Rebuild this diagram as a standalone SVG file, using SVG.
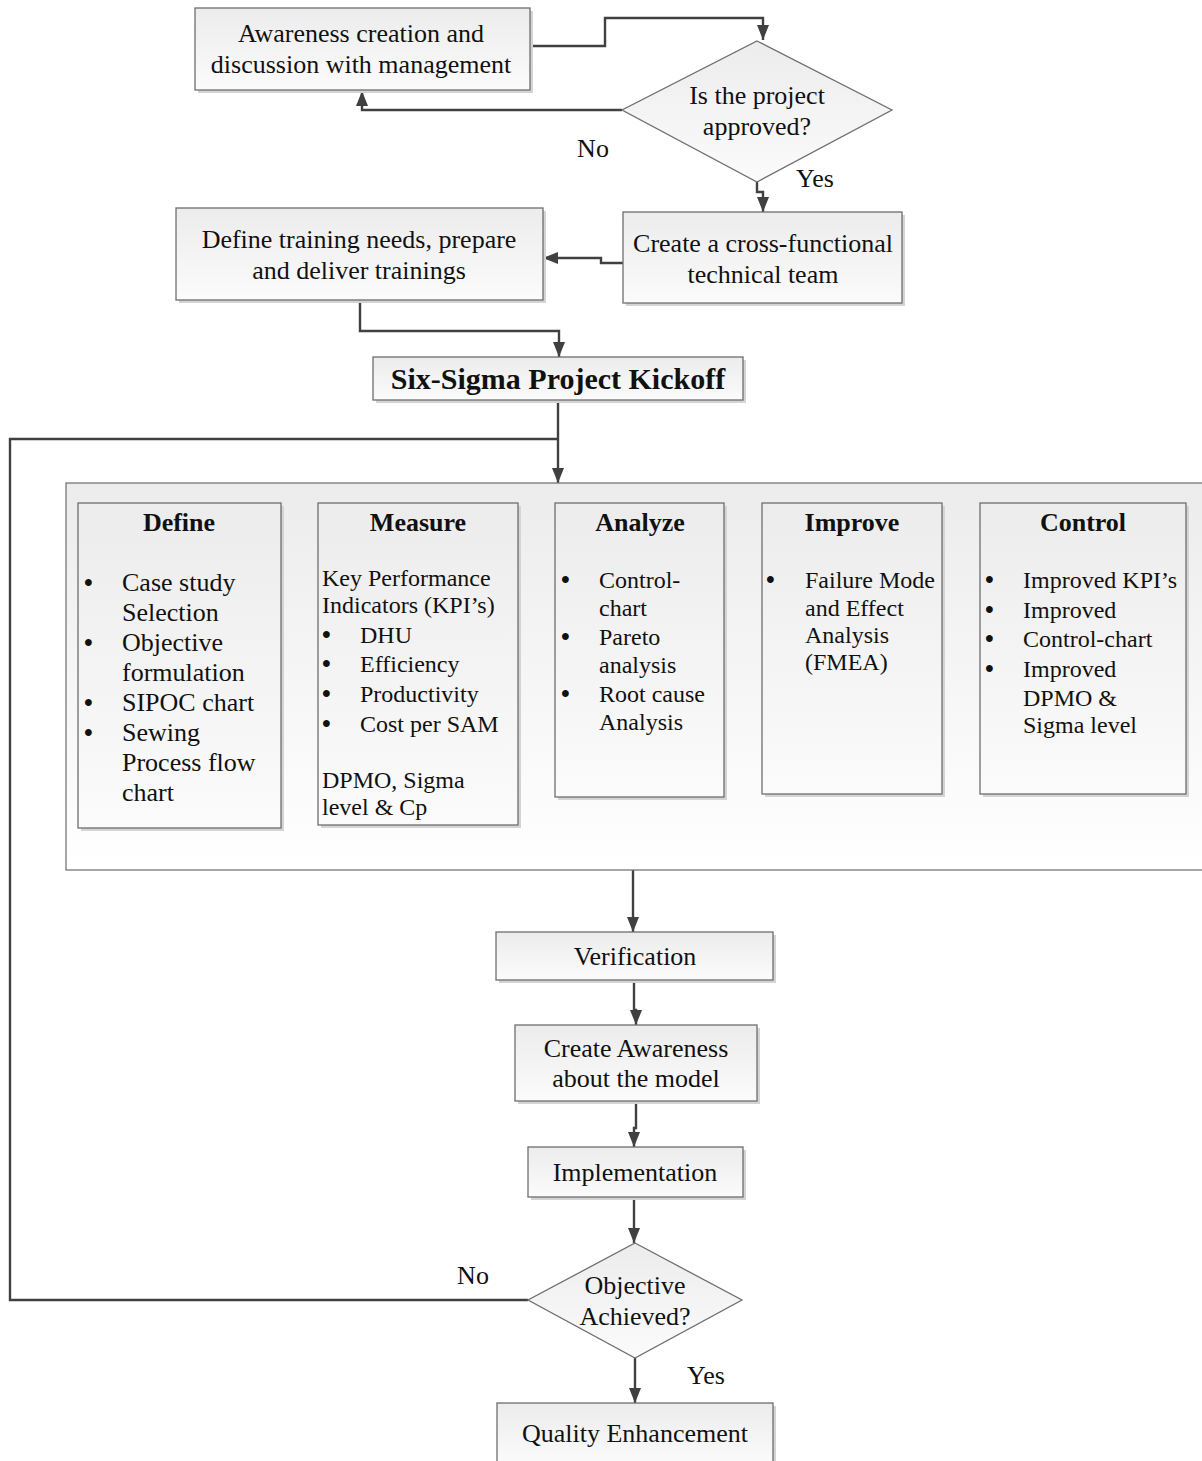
<svg xmlns="http://www.w3.org/2000/svg" width="1202" height="1461" viewBox="0 0 1202 1461">
<defs>
<linearGradient id="gBox" x1="0" y1="0" x2="0" y2="1">
<stop offset="0" stop-color="#ececec"/>
<stop offset="1" stop-color="#fbfbfb"/>
</linearGradient>
<linearGradient id="gBig" x1="0" y1="0" x2="0" y2="1">
<stop offset="0" stop-color="#ececec"/>
<stop offset="1" stop-color="#ffffff"/>
</linearGradient>
<marker id="arr" viewBox="0 0 15 12" markerWidth="15" markerHeight="12" refX="15" refY="6" orient="auto-start-reverse" markerUnits="userSpaceOnUse">
<path d="M0,0 L15,6 L0,12 z" fill="#404040"/>
</marker>
</defs>
<style>
.box{fill:url(#gBox);stroke:#6e6e6e;stroke-width:1.3}
.sh{fill:#d4d4d4}
.big{fill:url(#gBig);stroke:#777;stroke-width:1.3}
.t{font-family:"Liberation Serif","Times New Roman",serif;font-size:26px;fill:#111}
.s{font-family:"Liberation Serif","Times New Roman",serif;font-size:24px;fill:#111}
.b{font-family:"Liberation Serif","Times New Roman",serif;font-size:26px;font-weight:bold;fill:#111}
.bu{font-size:25px;font-weight:bold}
.c{text-anchor:middle}
.ln{fill:none;stroke:#404040;stroke-width:2.4}
.ar{marker-end:url(#arr)}
.da{marker-start:url(#arr);marker-end:url(#arr)}
</style>
<rect width="1202" height="1461" fill="#fff"/>

<g id="connectors">
<path class="ln ar" d="M530,46 H605 V18 H763 V40"/>
<path class="ln ar" d="M622,110 H362 V91"/>
<path class="ln ar" d="M757,182 V192 H763 V212"/>
<path class="ln ar" d="M623,263 H601 V258 H543"/>
<path class="ln ar" d="M360,300 V331 H559 V357"/>
<path class="ln ar" d="M558,400 V483"/>
<path class="ln" d="M528,1300 H10 V439 H558"/>
<path class="ln da" d="M281,663 H318"/>
<path class="ln" d="M518,663 H545 V650 H529 V663"/>
<path class="ln ar" d="M545,648 H555"/>
<path class="ln" d="M519,663 H522" marker-start="url(#arr)"/>
<path class="ln da" d="M724,648 H762"/>
<path class="ln da" d="M942,648 H980"/>
<path class="ln ar" d="M633,870 V932"/>
<path class="ln ar" d="M634,981 V1010 H636 V1025"/>
<path class="ln ar" d="M636,1101 V1128 H634 V1147"/>
<path class="ln ar" d="M634,1197 V1243"/>
<path class="ln ar" d="M635,1358 V1403"/>
</g>

<g id="labels">
<text class="t c" x="593" y="157">No</text>
<text class="t c" x="815" y="187">Yes</text>
<text class="t c" x="473" y="1284">No</text>
<text class="t c" x="706" y="1384">Yes</text>
</g>

<g id="n-awareness">
<rect class="sh" x="198" y="11" width="335" height="82"/>
<rect class="box" x="195" y="8" width="335" height="82"/>
<text class="t c" x="361" y="42">Awareness creation and</text>
<text class="t c" x="361" y="73">discussion with management</text>
</g>

<g id="n-approved">
<polygon class="box" points="757,41 892,110 757,182 622,110"/>
<text class="t c" x="757" y="104">Is the project</text>
<text class="t c" x="757" y="135">approved?</text>
</g>

<g id="n-team">
<rect class="sh" x="626" y="215" width="279" height="91"/>
<rect class="box" x="623" y="212" width="279" height="91"/>
<text class="t c" x="763" y="252">Create a cross-functional</text>
<text class="t c" x="763" y="283">technical team</text>
</g>

<g id="n-training">
<rect class="sh" x="179" y="211" width="367" height="92"/>
<rect class="box" x="176" y="208" width="367" height="92"/>
<text class="t c" x="359" y="248">Define training needs, prepare</text>
<text class="t c" x="359" y="279">and deliver trainings</text>
</g>

<g id="n-kickoff">
<rect class="sh" x="376" y="360" width="370" height="43"/>
<rect class="box" x="373" y="357" width="370" height="43"/>
<text class="b c" x="558" y="389" style="font-size:30px">Six-Sigma Project Kickoff</text>
</g>

<g id="n-dmaic">
<rect class="big" x="66" y="483" width="1140" height="387"/>
</g>

<g id="n-define">
<rect class="sh" x="81" y="506" width="203" height="325"/>
<rect class="box" x="78" y="503" width="203" height="325"/>
<text class="b c" x="179" y="531">Define</text>
<g class="t">
<text x="84" y="591"><tspan class="bu">•</tspan><tspan x="122">Case study</tspan></text>
<text x="122" y="621">Selection</text>
<text x="84" y="651"><tspan class="bu">•</tspan><tspan x="122">Objective</tspan></text>
<text x="122" y="681">formulation</text>
<text x="84" y="711"><tspan class="bu">•</tspan><tspan x="122">SIPOC chart</tspan></text>
<text x="84" y="741"><tspan class="bu">•</tspan><tspan x="122">Sewing</tspan></text>
<text x="122" y="771">Process flow</text>
<text x="122" y="801">chart</text>
</g>
</g>

<g id="n-measure">
<rect class="sh" x="321" y="506" width="200" height="322"/>
<rect class="box" x="318" y="503" width="200" height="322"/>
<text class="b c" x="418" y="531">Measure</text>
<g class="s">
<text x="322" y="586">Key Performance</text>
<text x="322" y="613">Indicators (KPI’s)</text>
<text x="322" y="643"><tspan class="bu">•</tspan><tspan x="360">DHU</tspan></text>
<text x="322" y="672"><tspan class="bu">•</tspan><tspan x="360">Efficiency</tspan></text>
<text x="322" y="702"><tspan class="bu">•</tspan><tspan x="360">Productivity</tspan></text>
<text x="322" y="732"><tspan class="bu">•</tspan><tspan x="360">Cost per SAM</tspan></text>
<text x="322" y="788">DPMO, Sigma</text>
<text x="322" y="815">level &amp; Cp</text>
</g>
</g>

<g id="n-analyze">
<rect class="sh" x="558" y="506" width="169" height="294"/>
<rect class="box" x="555" y="503" width="169" height="294"/>
<text class="b c" x="640" y="531">Analyze</text>
<g class="s">
<text x="561" y="588"><tspan class="bu">•</tspan><tspan x="599">Control-</tspan></text>
<text x="599" y="616">chart</text>
<text x="561" y="645"><tspan class="bu">•</tspan><tspan x="599">Pareto</tspan></text>
<text x="599" y="673">analysis</text>
<text x="561" y="702"><tspan class="bu">•</tspan><tspan x="599">Root cause</tspan></text>
<text x="599" y="730">Analysis</text>
</g>
</g>

<g id="n-improve">
<rect class="sh" x="765" y="506" width="180" height="291"/>
<rect class="box" x="762" y="503" width="180" height="291"/>
<text class="b c" x="852" y="531">Improve</text>
<g class="s">
<text x="766" y="588"><tspan class="bu">•</tspan><tspan x="805">Failure Mode</tspan></text>
<text x="805" y="616">and Effect</text>
<text x="805" y="643">Analysis</text>
<text x="805" y="670">(FMEA)</text>
</g>
</g>

<g id="n-control">
<rect class="sh" x="983" y="506" width="206" height="291"/>
<rect class="box" x="980" y="503" width="206" height="291"/>
<text class="b c" x="1083" y="531">Control</text>
<g class="s">
<text x="985" y="588"><tspan class="bu">•</tspan><tspan x="1023">Improved KPI’s</tspan></text>
<text x="985" y="618"><tspan class="bu">•</tspan><tspan x="1023">Improved</tspan></text>
<text x="985" y="647"><tspan class="bu">•</tspan><tspan x="1023">Control-chart</tspan></text>
<text x="985" y="677"><tspan class="bu">•</tspan><tspan x="1023">Improved</tspan></text>
<text x="1023" y="706">DPMO &amp;</text>
<text x="1023" y="733">Sigma level</text>
</g>
</g>

<g id="n-verification">
<rect class="sh" x="499" y="935" width="277" height="48"/>
<rect class="box" x="496" y="932" width="277" height="48"/>
<text class="t c" x="635" y="965">Verification</text>
</g>

<g id="n-create-awareness">
<rect class="sh" x="518" y="1028" width="242" height="76"/>
<rect class="box" x="515" y="1025" width="242" height="76"/>
<text class="t c" x="636" y="1057">Create Awareness</text>
<text class="t c" x="636" y="1087">about the model</text>
</g>

<g id="n-implementation">
<rect class="sh" x="531" y="1150" width="215" height="50"/>
<rect class="box" x="528" y="1147" width="215" height="50"/>
<text class="t c" x="635" y="1181">Implementation</text>
</g>

<g id="n-objective">
<polygon class="box" points="635,1243 742,1300 635,1358 528,1300"/>
<text class="t c" x="635" y="1294">Objective</text>
<text class="t c" x="635" y="1325">Achieved?</text>
</g>

<g id="n-quality">
<rect class="sh" x="500" y="1406" width="276" height="60"/>
<rect class="box" x="497" y="1403" width="276" height="62"/>
<text class="t c" x="635" y="1442">Quality Enhancement</text>
</g>
</svg>
